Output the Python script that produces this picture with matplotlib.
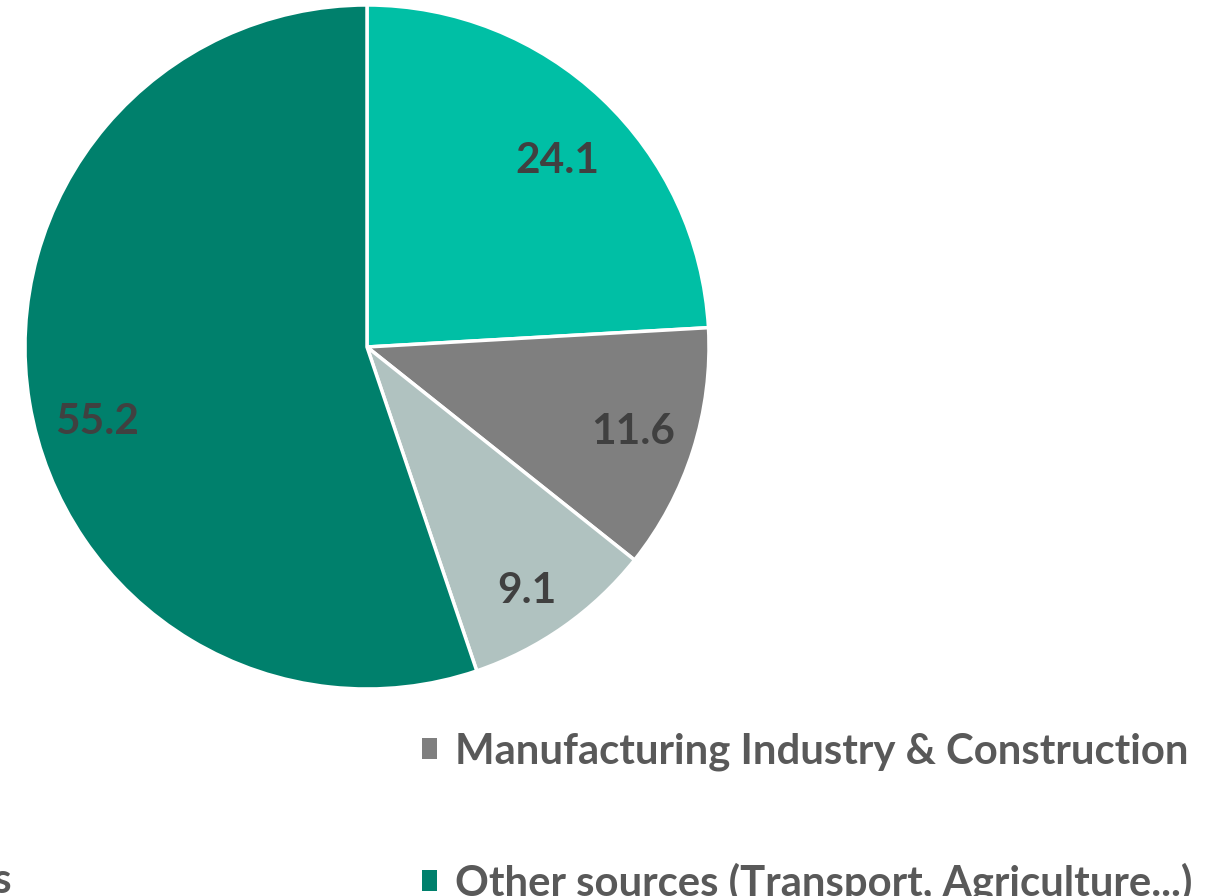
import matplotlib
matplotlib.use('Agg')
import matplotlib.pyplot as plt
import numpy as np

# ── Data ──
sources = ['Energy Industries', 'Manufacturing Industry & Construction',
           'Industrial Processes', 'Other sources (Transport, Agriculture...)']
shares = [24.1, 11.6, 9.1, 55.2]
colors = ['#00BFA5', '#7F7F7F', '#B0C2C0', '#00806C']
# label placement tweaks (radius fraction, angle nudge in degrees) to mimic Excel
label_r = [0.785, 0.815, 0.845, 0.815]
label_nudge = [-1.8, 0.7, -1.4, 5.4]

W, H = 1206, 896
fig = plt.figure(figsize=(W / 100, H / 100), dpi=100)
fig.patch.set_facecolor('white')

# pie centre ~(367, 347) px, radius ~342 px
cx, cy, r = 367, 347, 342
ax = fig.add_axes([(cx - r) / W, 1 - (cy + r) / H, 2 * r / W, 2 * r / H])

wedges, _, autotexts = ax.pie(
    shares, colors=colors, startangle=90, counterclock=False,
    autopct=lambda p: f'{p:.1f}', pctdistance=0.81, radius=1.0,
    wedgeprops=dict(edgecolor='white', linewidth=2.5),
    textprops=dict(color='#404040', fontsize=30.5, fontweight='bold', family='Lato'))
ax.set_xlim(-1, 1)
ax.set_ylim(-1, 1)

for w, t, lr, dn in zip(wedges, autotexts, label_r, label_nudge):
    ang = np.deg2rad((w.theta1 + w.theta2) / 2 + dn)
    t.set_position((lr * np.cos(ang), lr * np.sin(ang)))
    t.set_va('center_baseline')

# legend, 2 columns, left column runs off the canvas
LEG_PT = 30.2
fs_px = LEG_PT * 100 / 72
order = [0, 2, 1, 3]


def make_legend(x0, y0, cs, ls):
    lg = fig.legend([wedges[i] for i in order], [sources[i] for i in order],
                    ncol=2, frameon=False, loc='lower left',
                    bbox_to_anchor=(x0 / W, y0 / H), borderaxespad=0,
                    prop=dict(family='Lato', weight='bold', size=LEG_PT),
                    labelcolor='#595959', handlelength=0.36, handleheight=0.36,
                    handletextpad=0.42, labelspacing=ls, columnspacing=cs)
    for h in lg.legend_handles:
        h.set_edgecolor('none')
    return lg


x0, y0, cs, ls = -400.0, -60.0, 10.0, 2.2
for _ in range(3):
    leg = make_legend(x0, y0, cs, ls)
    fig.canvas.draw()
    ext = [t.get_window_extent() for t in leg.get_texts()]
    left_end = max(ext[0].x1, ext[1].x1)
    gap = ext[2].x0 - left_end
    pitch = ext[2].y0 - ext[3].y0
    cs += ((455 - 12) - gap) / fs_px
    ls += (132 - pitch) / fs_px
    x0 += 12 - left_end
    y0 += (H - 771) - ext[2].y0
    leg.remove()

leg = make_legend(x0, y0, cs, ls)

fig.savefig('out.png', dpi=100, facecolor=fig.get_facecolor())
